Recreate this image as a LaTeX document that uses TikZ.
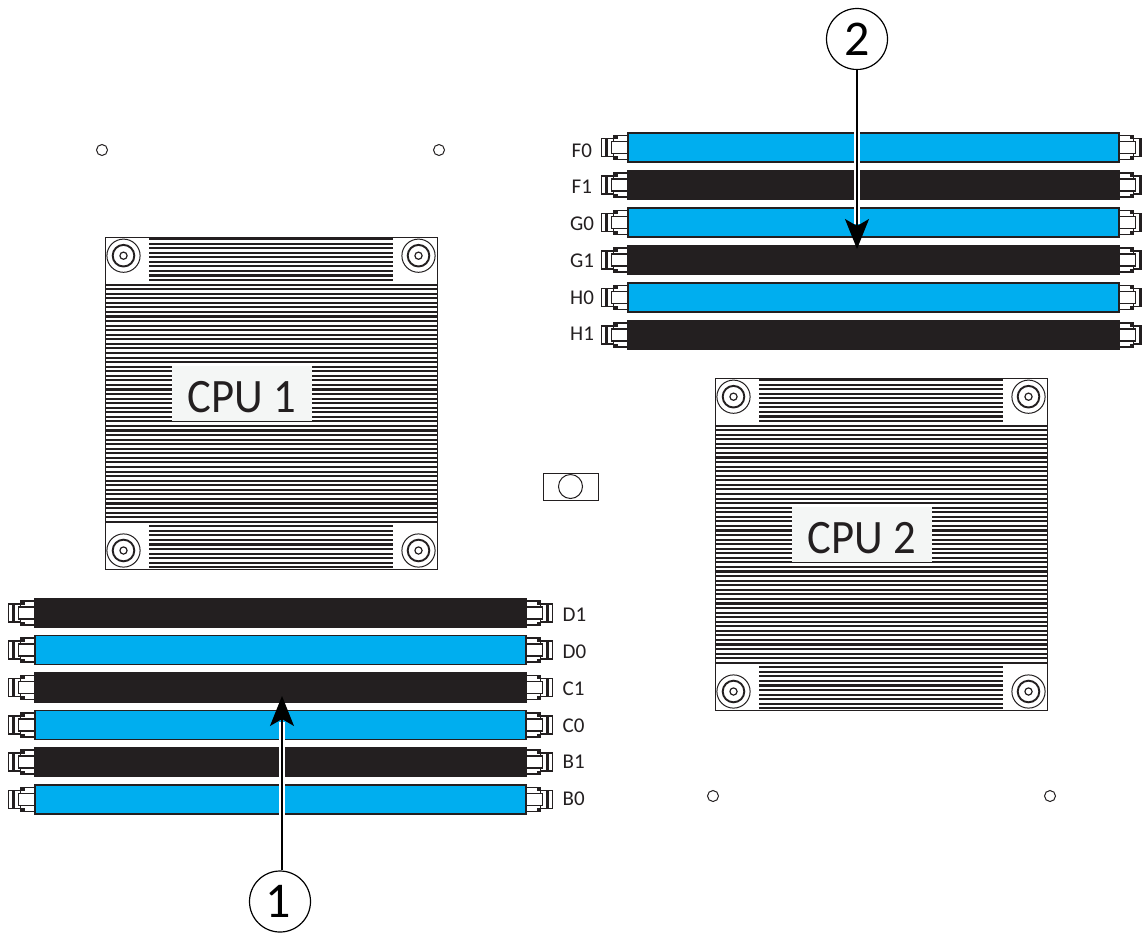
\documentclass[tikz,border=0pt]{standalone}
\usepackage{fontspec}
\setmainfont{Carlito}
\newfontfamily\cpufont[FakeStretch=0.93]{Carlito}
\usepackage{tikz}
\usetikzlibrary{calc,arrows.meta}
\definecolor{dimmBlue}{HTML}{00AEEF}
\definecolor{dimmBlack}{HTML}{231F20}
\definecolor{labelPaper}{HTML}{F4F6F5}
\tikzstyle{dimmblue}=[rectangle,draw=dimmBlack,fill=dimmBlue,line width=1.2pt,
                      minimum width=491pt,minimum height=29pt,inner sep=0pt,outer sep=0pt]
\tikzstyle{dimmblack}=[dimmblue,fill=dimmBlack]
\tikzstyle{slotlabel}=[anchor=west,inner sep=0pt,text=dimmBlack,font=\fontsize{21}{24}\selectfont]
\tikzstyle{cpubody}=[rectangle,draw=dimmBlack,fill=white,line width=1pt,
                     minimum size=332pt,inner sep=0pt,outer sep=0pt]
\tikzstyle{cpulabel}=[rectangle,fill=labelPaper,text=dimmBlack,minimum width=140pt,minimum height=55pt,
                      inner sep=0pt,font=\cpufont\fontsize{48}{54}\selectfont]
\tikzstyle{fin}=[draw=dimmBlack,line width=2.1pt]
\tikzstyle{thinline}=[draw=dimmBlack,line width=1pt]
\tikzstyle{hole}=[circle,draw=dimmBlack,fill=white,line width=1pt,minimum size=11pt,inner sep=0pt]
\tikzstyle{callout}=[circle,draw=black,fill=white,line width=1.2pt,minimum size=61pt,inner sep=0pt,
                     font=\fontsize{50}{54}\selectfont]
\tikzstyle{halo}=[draw=white,line width=6pt]
\tikzstyle{leader}=[draw=black,line width=1.3pt,-{Stealth[length=30pt,width=24pt,inset=7pt]}]
% screw: #1 x, #2 y
\newcommand\screw[2]{
    \path [thinline,fill=white] (#1,#2) circle (16.6pt);
    \path [draw=dimmBlack,line width=1.9pt] (#1,#2) circle (10.8pt);
    \path [thinline,line width=1.2pt] (#1,#2) circle (3.6pt);
}
% heat sink: #1 name, #2 left, #3 top, #4 text, #5 text offset
\newcommand\heatsink[5]{
    \node [cpubody] (#1) at ($(#2,#3)+(166,166)$) {};
    \foreach \i in {0,...,9}
        \draw [fin] ($(#2,#3)+(44,2+4.56*\i)$) -- ($(#2,#3)+(288,2+4.56*\i)$);
    \foreach \i in {10,...,62}
        \draw [fin] ($(#2,#3)+(0.5,2+4.56*\i)$) -- ($(#2,#3)+(331.5,2+4.56*\i)$);
    \foreach \i in {63,...,72}
        \draw [fin] ($(#2,#3)+(44,2+4.56*\i)$) -- ($(#2,#3)+(288,2+4.56*\i)$);
    \screw{#2+18.5}{#3+18.7}
    \screw{#2+313.5}{#3+18.7}
    \screw{#2+18.5}{#3+313.5}
    \screw{#2+313.5}{#3+313.5}
    \node [cpulabel] (#1text) at ($(#2,#3)+(#5,156.5)$) {\raisebox{-4pt}[\height][\depth]{#4}};
}
% latch: #1 x of module edge, #2 y, #3 direction
\newcommand\latch[3]{
    \begin{scope}[shift={(#1,#2)},xscale=#3]
        \draw [thinline,line width=1.3pt,fill=white] (14,-9) rectangle (26,9);
        \fill [dimmBlack] (19.5,-9) rectangle (22.5,9);
        \draw [thinline,line width=1.3pt,fill=white] (0,-12) rectangle (14,-6);
        \draw [thinline,line width=1.3pt,fill=white] (0,12) rectangle (14,6);
        \fill [dimmBlack] (10,-12.5) rectangle (14,-8.5);
        \fill [dimmBlack] (10,12.5) rectangle (14,8.5);
        \draw [line width=1.9pt,draw=dimmBlack,fill=white] (0,-6) -- (16,-6) -- (16,6) -- (0,6);
    \end{scope}
}
% memory slot: #1 name, #2 style, #3 centre x, #4 y
\newcommand\slot[4]{
    \latch{#3-246}{#4}{-1}
    \latch{#3+246}{#4}{1}
    \node [#2] (#1) at (#3,#4) {};
}

\begin{document}
\begin{tikzpicture}[x=1pt,y=-1pt]
    \useasboundingbox (0,0) rectangle (1142,932);

    \heatsink{cpuA}{105}{237}{CPU 1}{137}
    \heatsink{cpuB}{715}{378}{CPU 2}{147}

    % mounting holes
    \node [hole] (holeA) at (102,150) {};
    \node [hole] (holeB) at (439,150) {};
    \node [hole] (holeC) at (713,796) {};
    \node [hole] (holeD) at (1050,796) {};

    \draw [thinline] (543,473) rectangle (598,500);
    \node [circle,draw=dimmBlack,line width=1pt,minimum size=24pt,inner sep=0pt] (post) at (570.5,486.5) {};

    % upper bank
    \slot{slotFzero}{dimmblue}{873.5}{147.5}
    \slot{slotFone}{dimmblack}{873.5}{185}
    \slot{slotGzero}{dimmblue}{873.5}{222.5}
    \slot{slotGone}{dimmblack}{873.5}{260}
    \slot{slotHzero}{dimmblue}{873.5}{297.5}
    \slot{slotHone}{dimmblack}{873.5}{335}
    \node [slotlabel] (lblFzero) at (571.5,151) {F0};
    \node [slotlabel] (lblFone) at (571.5,187) {F1};
    \node [slotlabel] (lblGzero) at (570,224) {G0};
    \node [slotlabel] (lblGone) at (570,261) {G1};
    \node [slotlabel] (lblHzero) at (570,298) {H0};
    \node [slotlabel] (lblHone) at (570,334) {H1};

    % lower bank
    \slot{slotDone}{dimmblack}{280.5}{613}
    \slot{slotDzero}{dimmblue}{280.5}{650}
    \slot{slotCone}{dimmblack}{280.5}{687.5}
    \slot{slotCzero}{dimmblue}{280.5}{725}
    \slot{slotBone}{dimmblack}{280.5}{762}
    \slot{slotBzero}{dimmblue}{280.5}{799.5}
    \node [slotlabel] (lblDone) at (562.5,615) {D1};
    \node [slotlabel] (lblDzero) at (562.5,652) {D0};
    \node [slotlabel] (lblCone) at (562.5,689) {C1};
    \node [slotlabel] (lblCzero) at (562.5,726) {C0};
    \node [slotlabel] (lblBone) at (562.5,762) {B1};
    \node [slotlabel] (lblBzero) at (562.5,799) {B0};

    % callouts
    \node [callout] (callA) at (280,901.5) {\hspace{-3pt}1};
    \node [callout] (callB) at (857,39) {2};
    \coordinate (tipA) at (282,696);
    \coordinate (tipB) at (857,249);
    \draw [halo] (282,870) -- (282,722);
    \draw [halo] (857,70) -- (857,224);
    \draw [leader] (callA.north -| tipA) -- (tipA);
    \draw [leader] (callB.south) -- (tipB);
\end{tikzpicture}
\end{document}
